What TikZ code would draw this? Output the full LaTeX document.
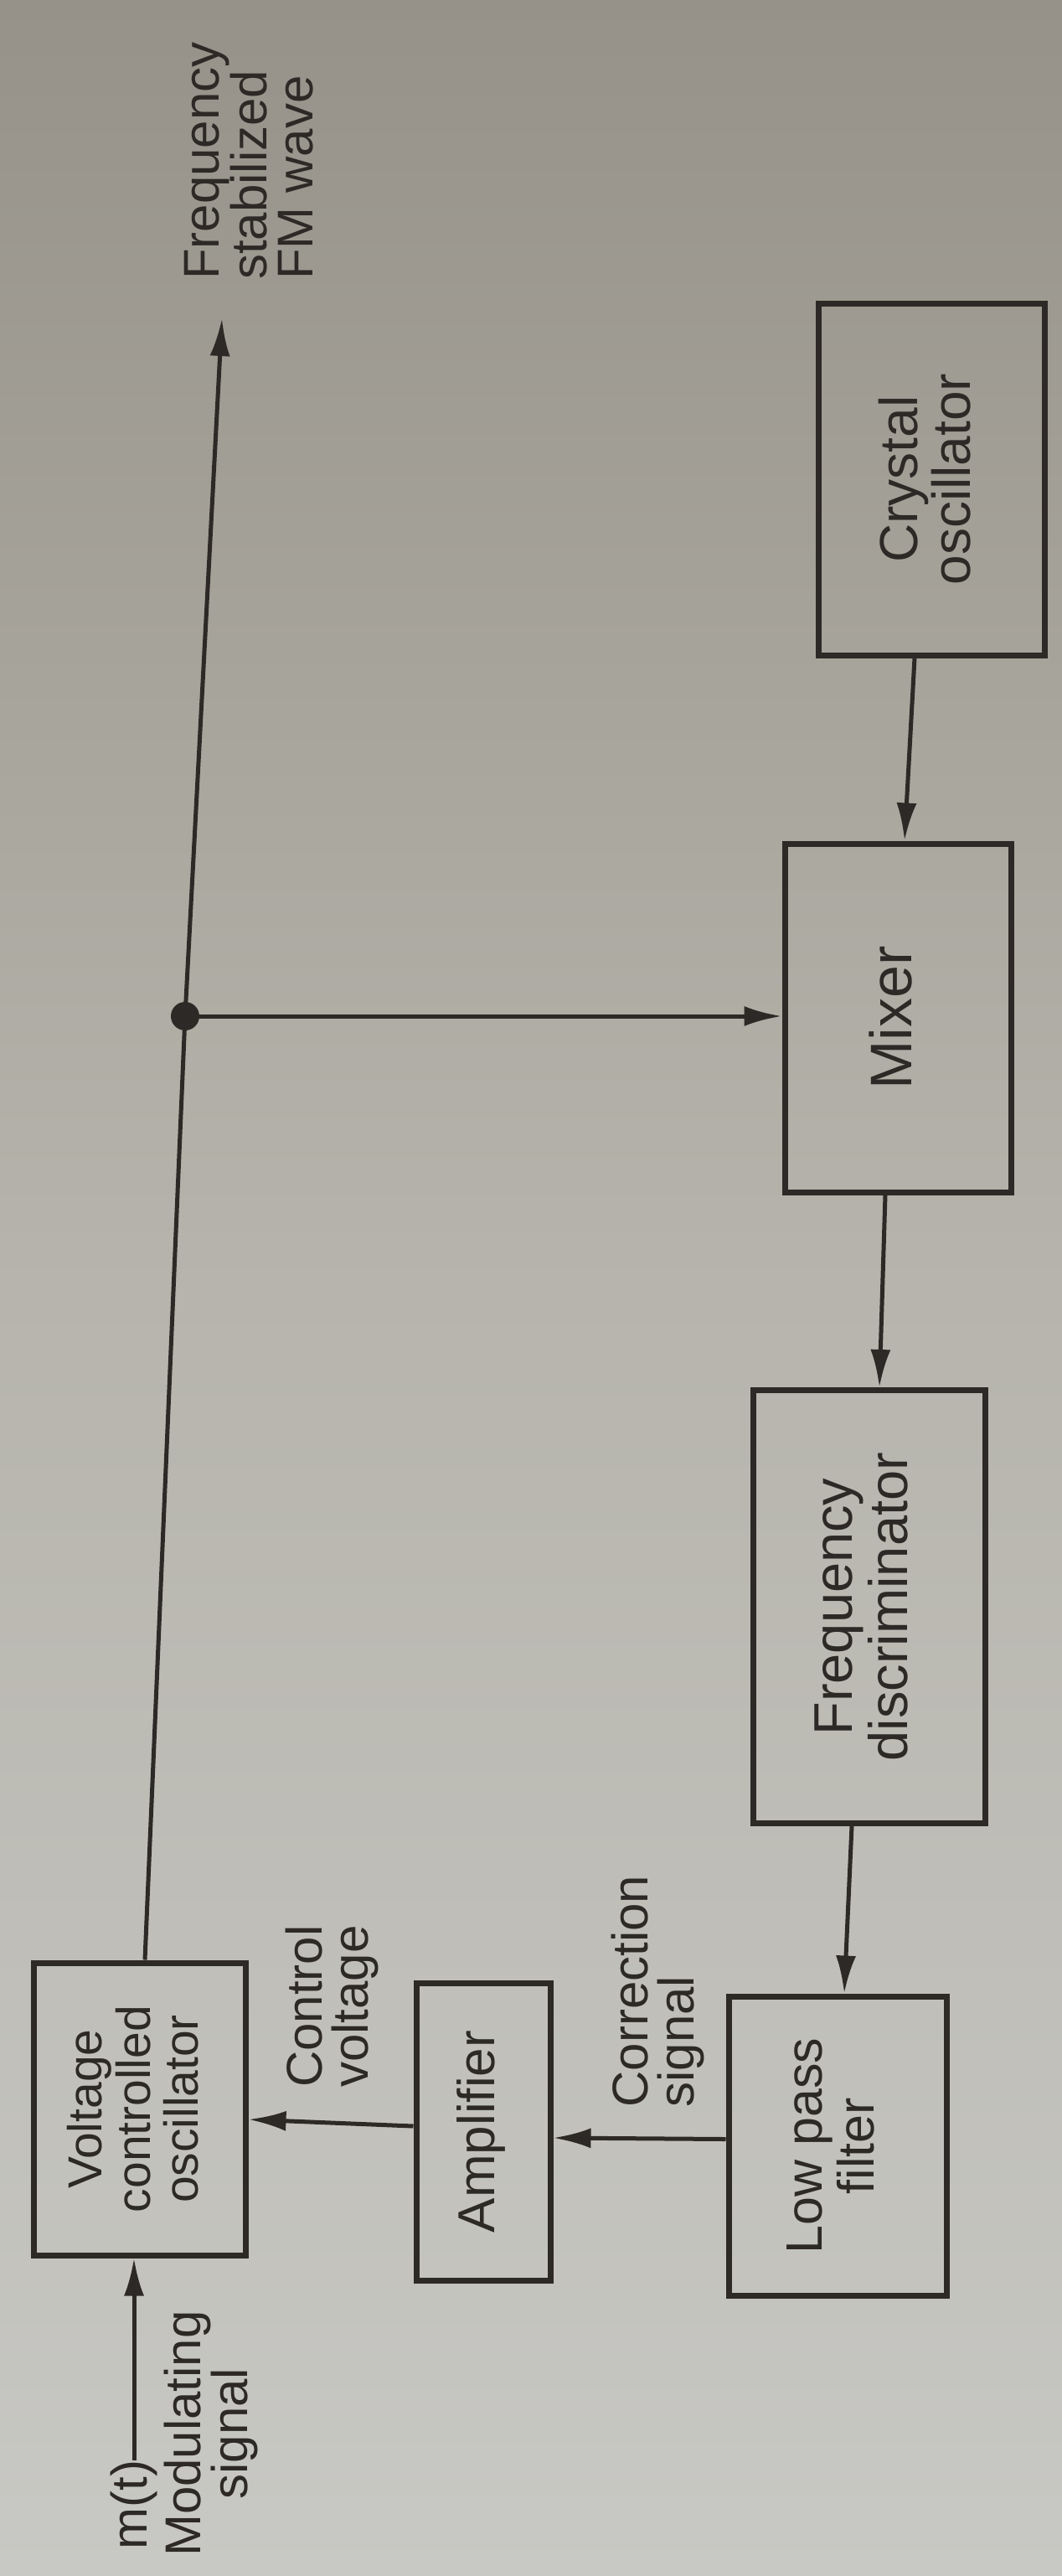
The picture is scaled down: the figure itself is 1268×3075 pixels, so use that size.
\documentclass[tikz,border=0pt]{standalone}
\usepackage{fontspec}
\setmainfont{Liberation Sans}
\usepackage{graphicx}
\usetikzlibrary{arrows.meta}
\definecolor{ink}{RGB}{45,41,38}
\definecolor{bgtop}{RGB}{150,146,137}
\definecolor{bgmid}{RGB}{182,180,172}
\definecolor{bgbot}{RGB}{200,200,196}
\newcommand\rtext[3]{\rotatebox{90}{\fontsize{#1}{#2}\selectfont\begin{tabular}{@{}c@{}}#3\end{tabular}}}
\begin{document}
\begin{tikzpicture}[x=1pt,y=-1pt,
  blk/.style={draw=ink, line width=7pt, inner sep=0pt, text=ink},
  conn/.style={draw=ink, line width=5pt},
  arr/.style={-{Latex[length=45pt,width=24pt]}},
  lab/.style={text=ink, inner sep=0pt, font=\fontsize{60}{55}\selectfont},
  dotn/.style={circle, fill=ink, minimum size=34pt, inner sep=0pt}]
\useasboundingbox (0,0) rectangle (1268,3075);
\shade[top color=bgtop, bottom color=bgbot, middle color=bgmid] (0,0) rectangle (1268,3075);

% blocks
\node[blk, minimum width=253pt, minimum height=349pt] (vco) at (166.5,2517.5) {\rtext{57}{53}{Voltage\\controlled\\oscillator}};
\node[blk, minimum width=160pt, minimum height=355pt] (amp) at (577,2544.5) {\rtext{62}{58}{Amplifier}};
\node[blk, minimum width=260pt, minimum height=357pt] (lpf) at (1000,2561.5) {\rtext{61}{62}{Low pass\\filter}};
\node[blk, minimum width=277pt, minimum height=517pt] (fd) at (1038,1918) {\rtext{65}{63}{Frequency\\discriminator}};
\node[blk, minimum width=270pt, minimum height=416pt] (mix) at (1072,1215) {\rtext{70}{60}{Mixer}};
\node[blk, minimum width=270pt, minimum height=420pt] (crys) at (1112,572) {\rtext{64}{54}{Crystal\\oscillator}};

% labels
\node[lab, rotate=90, align=left] (fm) at (297,192) {Frequency\\stabilized\\FM wave};
\node[lab, rotate=90, align=left] (cv) at (396,2395) {Control\\voltage};
\node[lab, rotate=90, align=left] (cs) at (785,2377) {Correction\\signal};
\node[lab, rotate=90, align=center] (ms) at (252,2905) {Modulating\\signal};
\node[lab, rotate=90] (mt) at (160,2990) {m(t)};

% connectors
\node[dotn] (dot) at (221,1213) {};
\coordinate (out) at (265,380);
\draw[conn] ([xshift=6.5pt]vco.north) -- (dot.center);
\draw[conn,arr] (dot.center) -- (out);
\draw[conn,arr] (dot.center) -- (dot.center -| mix.west);
\draw[conn,arr] ([xshift=-20pt]crys.south) -- ([xshift=8pt]mix.north);
\draw[conn,arr] ([xshift=-15pt]mix.south) -- ([xshift=12pt]fd.north);
\draw[conn,arr] ([xshift=-21pt]fd.south) -- ([xshift=8pt]lpf.north);
\draw[conn,arr] ([yshift=8pt]lpf.west) -- ([yshift=-7.5pt]amp.east);
\draw[conn,arr] ([yshift=6.5pt]amp.west) -- ([yshift=-12.5pt]vco.east);
\draw[conn,arr] (mt.east) -- ([xshift=-6.5pt]vco.south);
\end{tikzpicture}
\end{document}
